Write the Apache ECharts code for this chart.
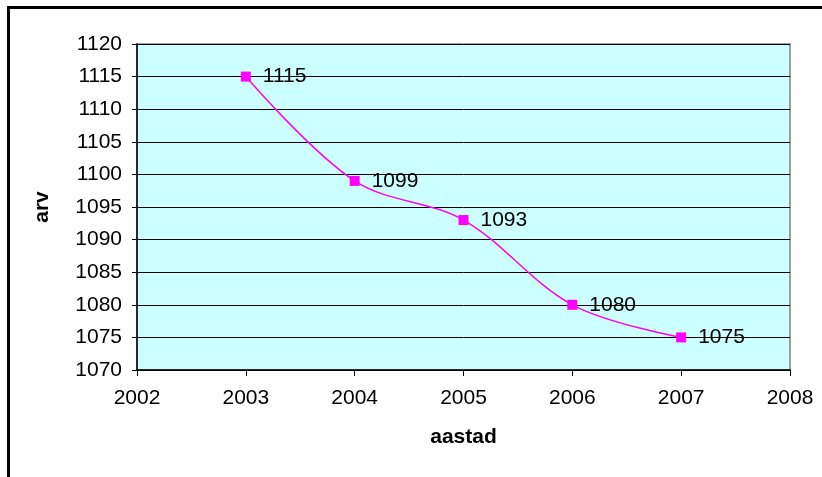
<!DOCTYPE html>
<html>
<head>
<meta charset="utf-8">
<script src="https://cdn.jsdelivr.net/npm/echarts@6/dist/echarts.min.js"></script>
<style>html,body{margin:0;padding:0;background:#fff;}#c{width:822px;height:477px;}</style>
</head>
<body>
<div id="c"></div>
<script>
const years = [2003, 2004, 2005, 2006, 2007];
const values = [1115, 1099, 1093, 1080, 1075];
const xTitle = 'aastad';
const yTitle = 'arv';
const font = '"Liberation Sans", Arial, sans-serif';

const chart = echarts.init(document.getElementById('c'), null, {renderer: 'canvas'});
chart.setOption({
  animation: false,
  backgroundColor: '#ffffff',
  graphic: [
    {type: 'rect', shape: {x: 8.5, y: 7.5, width: 900, height: 600}, style: {fill: 'none', stroke: '#000', lineWidth: 3}, z: 100}
  ],
  grid: {left: 137, right: 32, top: 44, bottom: 107, show: true, backgroundColor: '#CCFFFF', borderColor: '#808080', borderWidth: 1.5},
  xAxis: {
    type: 'value', min: 2002, max: 2008, interval: 1,
    name: xTitle, nameLocation: 'middle', nameGap: 57,
    nameTextStyle: {fontFamily: font, fontSize: 21, fontWeight: 'bold', color: '#000'},
    axisLine: {show: true, onZero: false, lineStyle: {color: '#000', width: 1.5}},
    axisTick: {show: true, length: 6, lineStyle: {color: '#000'}},
    axisLabel: {margin: 18, fontFamily: font, fontSize: 21, color: '#000', formatter: v => String(v)},
    splitLine: {show: false}
  },
  yAxis: {
    type: 'value', min: 1070, max: 1120, interval: 5,
    name: yTitle, nameLocation: 'middle', nameGap: 84, nameRotate: 90,
    nameTextStyle: {fontFamily: font, fontSize: 21, fontWeight: 'bold', color: '#000'},
    axisLine: {show: true, onZero: false, lineStyle: {color: '#000', width: 1.5}},
    axisTick: {show: true, length: 5, lineStyle: {color: '#000'}},
    axisLabel: {margin: 15, fontFamily: font, fontSize: 21, color: '#000', formatter: v => String(v)},
    splitLine: {show: true, lineStyle: {color: '#000', width: 1}}
  },
  series: [{
    type: 'line',
    data: years.map((y, i) => [y, values[i]]),
    smooth: 0.35,
    symbol: 'rect', symbolSize: 10,
    itemStyle: {color: '#FF00FF'},
    lineStyle: {color: '#FF00FF', width: 1.5},
    label: {show: true, position: 'right', distance: 12, fontFamily: font, fontSize: 21, color: '#000', formatter: p => String(p.value[1])}
  }]
});
</script>
</body>
</html>
